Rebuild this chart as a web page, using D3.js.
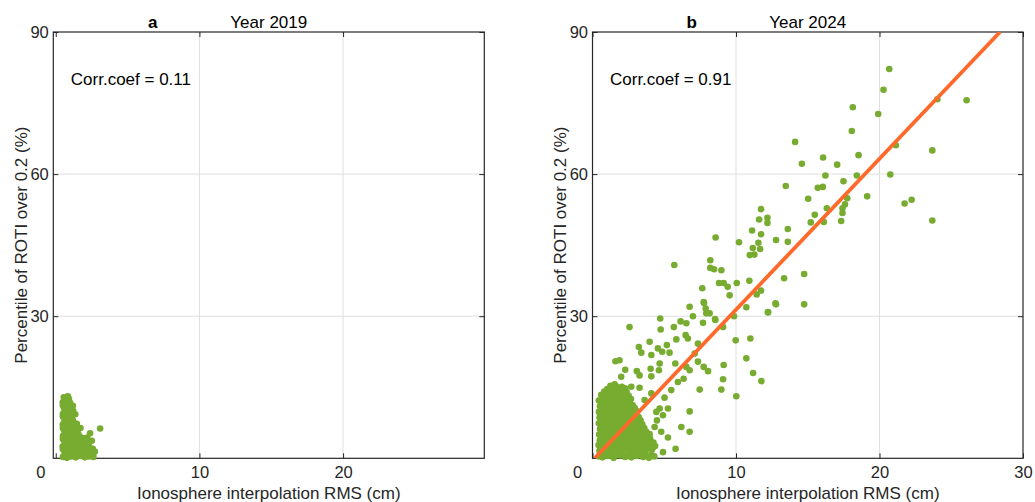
<!DOCTYPE html>
<html>
<head>
<meta charset="utf-8">
<script src="https://cdn.jsdelivr.net/npm/d3@7"></script>
<style>
  body { margin: 0; background: #fff; }
  svg { font-family: Arial, "Liberation Sans", Helvetica, sans-serif; }
</style>
</head>
<body>
<div id="chart"></div>
<script>
// [RMS (cm), ROTI percentile (%)]
let cluster2019 = [
  [0.5,0.3],[0.78,0.1],[1.08,0.4],[1.39,0.2],[1.71,0.5],[2.02,0.2],[2.31,0.4],[2.62,0.3],
  [0.62,1.4],[0.93,1.2],[1.22,1.6],[1.53,1.3],[1.84,1.5],[2.13,1.2],[2.44,1.6],[2.72,1.4],
  [0.48,2.5],[0.79,2.7],[1.11,2.4],[1.42,2.6],[1.73,2.4],[2.02,2.7],[2.33,2.5],
  [0.6,3.6],[0.91,3.4],[1.21,3.7],[1.52,3.5],[1.81,3.8],[2.09,3.5],
  [0.5,4.7],[0.81,4.9],[1.12,4.6],[1.41,4.8],[1.68,4.6],
  [0.58,5.9],[0.89,5.7],[1.19,6.0],[1.48,5.8],
  [0.49,7.1],[0.8,6.9],[1.09,7.2],[1.38,6.9],
  [0.61,8.2],[0.9,8.4],[1.18,8.1],
  [0.5,9.4],[0.79,9.2],[1.08,9.5],[1.36,9.3],
  [0.57,10.6],[0.86,10.8],[1.1,10.5],
  [0.49,11.8],[0.77,12.0],[1.0,11.7],
  [0.56,12.9],[0.84,13.1],
  [1.19,11.1],[3.09,6.3],[2.39,5.3],[1.47,7.3],[2.51,3.7],[1.72,6.4],[2.2,4.4],[1.12,8.4]
];

let fill2019 = [
  [0.64,0.8],[0.94,0.9],[1.24,0.7],[1.55,0.9],[1.86,0.8],[2.17,0.9],[2.47,0.7],
  [0.5,1.9],[0.78,2.0],[1.08,1.9],[1.38,2.0],[1.68,1.9],[1.98,2.0],[2.28,1.9],[2.58,2.0],
  [0.64,3.0],[0.95,3.1],[1.26,3.0],[1.57,3.1],[1.88,3.0],[2.18,3.1],
  [0.5,4.1],[0.76,4.2],[1.06,4.1],[1.36,4.2],[1.66,4.1],[1.95,4.2],
  [0.64,5.3],[0.95,5.2],[1.26,5.4],[1.56,5.3],
  [0.5,6.4],[0.78,6.5],[1.06,6.4],[1.34,6.5],
  [0.62,7.6],[0.95,7.7],[1.24,7.6],
  [0.5,8.8],[0.78,8.9],[1.05,8.8],
  [0.64,10.0],[0.95,10.1],[1.22,10.0],
  [0.5,11.2],[0.76,11.3],[1.0,11.2],
  [0.64,12.4],[0.92,12.5]
];

let cluster2024 = [
  [0.45,0.4],[0.71,0.2],[1.08,0.5],[1.47,0.1],[1.9,0.6],[2.27,0.3],[2.71,0.2],[3.08,0.5],[3.52,0.3],[3.93,0.1],[4.31,0.4],
  [0.48,1.6],[0.88,1.3],[1.31,1.7],[1.72,1.2],[2.08,1.5],[2.53,1.8],[2.9,1.3],[3.31,1.6],[3.68,1.4],[4.12,1.7],
  [0.42,2.8],[0.69,2.6],[1.12,2.9],[1.52,2.5],[1.93,2.8],[2.31,2.6],[2.69,3.0],[3.12,2.7],[3.49,2.5],[3.88,2.9],[4.36,2.6],
  [0.51,3.8],[0.92,4.1],[1.28,3.7],[1.71,4.0],[2.12,3.9],[2.48,4.2],[2.93,3.8],[3.29,4.0],[3.72,3.7],[4.02,4.1],
  [0.46,5.0],[0.74,5.3],[1.17,5.0],[1.56,5.2],[1.94,4.9],[2.37,5.3],[2.77,5.1],[3.14,4.9],[3.56,5.2],[3.88,5.0],
  [0.52,6.2],[0.89,6.5],[1.32,6.1],[1.69,6.4],[2.11,6.3],[2.49,6.1],[2.91,6.5],[3.28,6.2],[3.61,6.4],
  [0.44,7.4],[0.77,7.6],[1.14,7.3],[1.57,7.7],[1.96,7.4],[2.33,7.6],[2.76,7.3],[3.13,7.5],[3.47,7.2],
  [0.49,8.6],[0.91,8.8],[1.29,8.5],[1.72,8.9],[2.09,8.6],[2.52,8.8],[2.88,8.5],[3.22,8.7],
  [0.45,9.8],[0.79,10.1],[1.21,9.7],[1.62,10.0],[2.01,9.9],[2.41,10.2],[2.79,9.8],[3.08,10.0],
  [0.52,11.0],[0.88,11.3],[1.31,10.9],[1.68,11.2],[2.12,11.1],[2.49,10.9],[2.81,11.2],
  [0.44,12.2],[0.86,12.5],[1.24,12.1],[1.67,12.4],[2.04,12.3],[2.43,12.1],[2.68,12.5],
  [0.61,13.4],[1.02,13.7],[1.38,13.3],[1.81,13.6],[2.19,13.4],[2.52,13.2],
  [1.03,14.6],[1.42,14.9],[1.88,14.5],[2.27,14.8]
];

let fill2024 = [
  [0.62,0.9],[1.0,1.0],[1.3,0.8],[1.7,0.9],[2.1,0.7],[2.5,1.0],[2.9,0.8],[3.3,0.9],[3.7,0.8],[4.1,0.7],
  [0.55,2.1],[0.95,2.2],[1.32,2.0],[1.75,2.3],[2.15,2.1],[2.55,2.2],[2.95,2.0],[3.35,2.2],[3.75,2.1],[4.2,2.2],
  [0.62,3.3],[0.98,3.2],[1.35,3.4],[1.78,3.3],[2.2,3.2],[2.6,3.4],[3.0,3.3],[3.42,3.2],[3.85,3.4],[4.25,3.3],
  [0.64,4.5],[1.05,4.6],[1.45,4.4],[1.85,4.6],[2.25,4.5],[2.65,4.4],[3.05,4.6],[3.45,4.5],[3.8,4.4],
  [0.6,5.7],[1.0,5.8],[1.45,5.6],[1.85,5.8],[2.25,5.7],[2.65,5.6],[3.05,5.8],[3.45,5.7],[3.75,5.6],
  [0.65,6.9],[1.05,7.0],[1.45,6.8],[1.85,7.0],[2.25,6.9],[2.65,6.8],[3.05,7.0],[3.4,6.9],
  [0.6,8.1],[1.02,8.0],[1.45,8.2],[1.85,8.1],[2.25,8.0],[2.65,8.2],[3.0,8.1],[3.35,8.0],
  [0.62,9.3],[1.05,9.2],[1.42,9.4],[1.85,9.3],[2.22,9.2],[2.62,9.4],[2.98,9.3],
  [0.65,10.5],[1.05,10.6],[1.45,10.4],[1.88,10.6],[2.28,10.5],[2.65,10.4],[2.95,10.6],
  [0.68,11.7],[1.08,11.8],[1.48,11.6],[1.88,11.8],[2.28,11.7],[2.62,11.6],
  [0.65,12.9],[1.05,13.0],[1.45,12.8],[1.85,13.0],[2.25,12.9],[2.55,12.8],
  [0.82,14.1],[1.2,14.2],[1.6,14.0],[2.0,14.2],[2.38,14.0],
  [1.25,15.3],[1.65,15.2],[2.05,15.1]
];

let scatter2024 = [
  [20.68,82.2],[20.28,77.8],[26.07,75.6],[24.03,75.8],[18.14,74.1],[19.91,72.7],[18.07,69.1],
  [14.12,66.8],[23.68,65.0],[21.14,66.1],[16.07,63.5],[14.59,62.2],[18.54,64.0],[17.05,62.0],
  [16.23,59.7],[18.42,59.7],[20.75,59.9],[17.49,58.5],[13.47,57.5],[15.70,57.1],[16.05,57.3],
  [15.03,54.8],[17.75,54.9],[19.14,55.3],[21.75,53.8],[22.24,54.6],[11.75,52.6],[16.33,52.8],
  [17.59,53.6],[17.42,52.8],[17.42,51.8],[15.49,51.4],[12.19,50.8],[11.61,50.4],[12.19,49.7],
  [15.21,49.8],[16.12,49.9],[17.33,50.1],[23.68,50.2],[11.12,48.1],[13.61,48.4],[11.75,47.3],
  [8.58,46.6],[12.79,46.1],[13.61,45.7],[10.21,45.6],[11.56,45.5],[11.17,44.4],[11.68,44.2],
  [10.96,42.9],[11.28,43.0],[8.21,41.8],[8.21,40.2],[8.47,39.9],[8.98,39.7],[14.75,38.9],
  [13.35,38.0],[10.93,37.5],[8.82,37.0],[9.14,37.0],[10.05,37.0],[9.42,36.2],[7.65,35.9],
  [11.75,35.4],[11.44,34.6],[9.56,34.4],[12.79,32.5],[14.75,32.5],[10.72,31.9],[12.23,30.9],
  [7.75,33.0],[7.89,31.6],[8.16,30.6],[8.54,29.4],[9.86,30.0],[5.7,40.8],
  [6.77,32.0],[7.77,32.8],[7.93,30.6],[7.0,30.0],[12.23,30.8],[12.75,32.7],[4.72,29.5],
  [2.58,27.7],[4.75,27.2],[6.14,28.9],[6.54,28.5],[5.67,27.7],[7.70,28.6],[8.56,29.2],
  [9.1,27.7],[6.49,26.0],[6.65,25.3],[5.84,25.1],[9.98,24.9],[11.0,25.3],[7.35,24.2],
  [5.18,23.9],[3.98,24.6],[3.23,23.5],[4.56,23.2],[4.86,22.5],[3.40,22.3],[5.37,22.3],
  [4.1,21.8],[7.12,22.1],[7.35,20.4],[10.72,21.1],[1.88,20.7],[1.60,20.5],[4.68,20.0],
  [5.77,20.0],[9.14,19.7],[6.54,19.3],[7.75,19.3],[2.28,18.7],[3.09,18.4],[4.05,18.9],
  [4.63,18.6],[6.77,18.6],[8.05,18.4],[11.19,18.0],[3.28,17.5],[4.10,17.3],[2.0,17.2],
  [6.35,16.8],[9.10,16.7],[11.77,16.3],[5.95,16.1],[1.54,15.6],[2.70,15.1],[5.49,14.4],
  [7.47,14.5],[8.98,14.5],[3.28,14.9],[10.02,13.1],[4.10,13.7],[5.02,12.8],[3.63,12.3],
  [4.68,10.5],[5.26,10.5],[6.77,9.9],[4.91,9.1],[4.45,9.8],[6.19,6.6],[6.77,5.6],
  [5.26,4.4],[4.79,5.6],[5.79,2.0],[4.91,1.3],[4.21,3.1],[3.98,5.1],[4.33,6.6],[4.49,8.0]
];

let fit2024 = [[0.15, 0], [28.4, 90]];

let yTicks = [30, 60, 90];
let xTicks2019 = [10, 20];
let xTicks2024 = [10, 20, 30];

let width = 1035,
    height = 502,
    plotTop = 32,
    plotBottom = 458.3;

const svg = d3.select("#chart")
  .append("svg")
  .attr("width", width)
  .attr("height", height);

function drawPanel(p) {
  let x = d3.scaleLinear().domain(p.xDomain).range([p.left, p.right]);
  let y = d3.scaleLinear().domain([0, 90]).range([plotBottom, plotTop]);
  let g = svg.append("g");
  let cx = (p.left + p.right) / 2;

  // grid
  g.append("g").selectAll("line").data([10, 20]).join("line")
    .attr("x1", d => x(d)).attr("x2", d => x(d))
    .attr("y1", plotTop).attr("y2", plotBottom)
    .attr("stroke", "#dfdfdf");
  g.append("g").selectAll("line").data([30, 60]).join("line")
    .attr("y1", d => y(d)).attr("y2", d => y(d))
    .attr("x1", p.left).attr("x2", p.right)
    .attr("stroke", "#dfdfdf");

  // ticks, inward
  let tickAll = p.xTicks.concat([0]);
  g.append("g")
    .attr("transform", `translate(0,${plotBottom})`)
    .call(d3.axisBottom(x).tickValues(p.xTicks).tickSize(-5).tickPadding(8).tickFormat(d => d))
    .call(a => a.select(".domain").remove());
  g.append("g")
    .attr("transform", `translate(0,${plotBottom})`)
    .call(d3.axisBottom(x).tickValues([0]).tickSize(-5).tickFormat(""))
    .call(a => a.select(".domain").remove());
  g.append("g")
    .attr("transform", `translate(0,${plotTop})`)
    .call(d3.axisTop(x).tickValues(tickAll).tickSize(-5).tickFormat(""))
    .call(a => a.select(".domain").remove());
  g.append("g")
    .attr("transform", `translate(${p.left},0)`)
    .call(d3.axisLeft(y).tickValues(yTicks).tickSize(-5).tickPadding(4.5))
    .call(a => a.select(".domain").remove());
  g.append("g")
    .attr("transform", `translate(${p.right},0)`)
    .call(d3.axisRight(y).tickValues(yTicks).tickSize(-5).tickFormat(""))
    .call(a => a.select(".domain").remove());

  g.selectAll(".tick line").attr("stroke", "#262626");
  g.selectAll(".tick text")
    .attr("fill", "#262626")
    .style("font-size", "16.5px")
    .style("font-family", "Arial, 'Liberation Sans', sans-serif");

  g.append("text")
    .text("0")
    .attr("x", x(0) - 15)
    .attr("y", 478)
    .attr("text-anchor", "middle")
    .attr("fill", "#262626")
    .style("font-size", "16.5px");

  g.append("rect")
    .attr("x", p.left).attr("y", plotTop)
    .attr("width", p.right - p.left).attr("height", plotBottom - plotTop)
    .attr("fill", "none")
    .attr("stroke", "#262626")
    .attr("stroke-width", 1.2);

  // points
  g.append("g").selectAll("circle").data(p.points).join("circle")
    .attr("cx", d => x(d[0]))
    .attr("cy", d => y(d[1]))
    .attr("r", 3.3)
    .attr("fill", "#77AC30");

  if (p.fit) {
    svg.append("clipPath").attr("id", "clip" + p.letter)
      .append("rect")
      .attr("x", p.left).attr("y", plotTop)
      .attr("width", p.right - p.left).attr("height", plotBottom - plotTop);
    g.append("path")
      .datum(p.fit)
      .attr("clip-path", `url(#clip${p.letter})`)
      .attr("fill", "none")
      .attr("stroke", "#FF6A2C")
      .attr("stroke-width", 3.8)
      .attr("d", d3.line().x(d => x(d[0])).y(d => y(d[1])));
  }

  // texts
  g.append("text")
    .text(p.letter)
    .attr("x", cx - 116).attr("y", 28)
    .attr("text-anchor", "middle")
    .attr("font-weight", "bold")
    .style("font-size", "17px");
  g.append("text")
    .text(p.title)
    .attr("x", cx).attr("y", 28)
    .attr("text-anchor", "middle")
    .style("font-size", "17px");
  g.append("text")
    .text("Corr.coef = " + p.corr)
    .attr("x", p.left + 17.5).attr("y", 85)
    .style("font-size", "17px");
  g.append("text")
    .text("Ionosphere interpolation RMS (cm)")
    .attr("x", cx).attr("y", 499)
    .attr("text-anchor", "middle")
    .attr("fill", "#262626")
    .style("font-size", "17px");
  g.append("text")
    .text("Percentile of ROTI over 0.2 (%)")
    .attr("transform", `translate(${p.left - 26.5},${(plotTop + plotBottom) / 2}) rotate(-90)`)
    .attr("text-anchor", "middle")
    .attr("fill", "#262626")
    .style("font-size", "17px");
}

drawPanel({
  letter: "a", title: "Year 2019", corr: "0.11",
  left: 53.3, right: 484.3, xDomain: [-0.17, 29.83], xTicks: xTicks2019,
  points: cluster2019.concat(fill2019), fit: null
});

drawPanel({
  letter: "b", title: "Year 2024", corr: "0.91",
  left: 592.5, right: 1023, xDomain: [0, 30], xTicks: xTicks2024,
  points: cluster2024.concat(fill2024, scatter2024), fit: fit2024
});
</script>
</body>
</html>
